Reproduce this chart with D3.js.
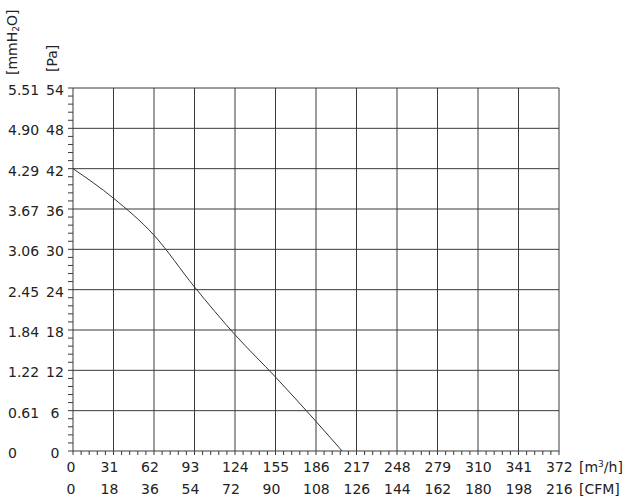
<!DOCTYPE html>
<html>
<head>
<meta charset="utf-8">
<script src="https://cdn.jsdelivr.net/npm/d3@7"></script>
<style>
  html, body { margin: 0; padding: 0; background: #fff; }
  svg text { font-family: "DejaVu Sans", Verdana, sans-serif; font-size: 14px; fill: #222; }
</style>
</head>
<body>
<svg id="chart" width="627" height="499"></svg>
<script>
// ---- data ----
const flowTicks = [0, 31, 62, 93, 124, 155, 186, 217, 248, 279, 310, 341, 372]; // m3/h
const cfmLabels = [0, 18, 36, 54, 72, 90, 108, 126, 144, 162, 180, 198, 216];    // CFM
const paTicks = [0, 6, 12, 18, 24, 30, 36, 42, 48, 54];                          // Pa
const mmH2OLabels = ["0", "0.61", "1.22", "1.84", "2.45", "3.06", "3.67", "4.29", "4.90", "5.51"];
const curveFlow = [0, 31, 62, 93, 124, 155, 186, 206];        // m3/h
const curvePa   = [42, 37.6, 32.1, 24.4, 17.3, 11, 4.4, 0];   // Pa

// ---- layout ----
const svg = d3.select("#chart");
const x = d3.scaleLinear().domain([0, 372]).range([73, 559]);
const y = d3.scaleLinear().domain([0, 54]).range([451, 88]);
const gridColor = "#3a3a3a";

// grid lines
svg.append("g").selectAll("line.v").data(flowTicks).join("line")
  .attr("x1", d => x(d)).attr("x2", d => x(d))
  .attr("y1", y(0)).attr("y2", y(54))
  .attr("stroke", gridColor).attr("stroke-width", 1);
svg.append("g").selectAll("line.h").data(paTicks).join("line")
  .attr("y1", d => y(d)).attr("y2", d => y(d))
  .attr("x1", x(0)).attr("x2", x(372))
  .attr("stroke", gridColor).attr("stroke-width", 1);

// minor ticks
const xMinor = d3.range(0, 61).map(i => i * 31 / 5);
svg.append("g").selectAll("line").data(xMinor).join("line")
  .attr("x1", d => x(d)).attr("x2", d => x(d))
  .attr("y1", y(0)).attr("y2", y(0) + 4)
  .attr("stroke", gridColor).attr("stroke-width", 1);
const yMinor = d3.range(0, 46).map(i => i * 6 / 5);
svg.append("g").selectAll("line").data(yMinor).join("line")
  .attr("y1", d => y(d)).attr("y2", d => y(d))
  .attr("x1", x(0) - 5).attr("x2", x(0))
  .attr("stroke", gridColor).attr("stroke-width", 1);

// curve
const pts = curveFlow.map((f, i) => [f, curvePa[i]]);
svg.append("path")
  .attr("d", d3.line().x(d => x(d[0])).y(d => y(d[1])).curve(d3.curveMonotoneX)(pts))
  .attr("fill", "none").attr("stroke", "#333").attr("stroke-width", 1);

// y labels
svg.append("g").selectAll("text").data(mmH2OLabels).join("text")
  .attr("x", 8).attr("y", (d, i) => y(paTicks[i]) + 7)
  .text(d => d);
svg.append("g").selectAll("text").data(paTicks).join("text")
  .attr("x", 55).attr("y", d => y(d) + 7)
  .attr("text-anchor", "middle")
  .text(d => d);

// x labels
svg.append("g").selectAll("text").data(flowTicks).join("text")
  .attr("x", (d, i) => i === 0 ? x(d) - 2 : x(d) - 13)
  .attr("y", 472)
  .attr("text-anchor", (d, i) => i === 0 ? "middle" : "start")
  .text(d => d);
svg.append("g").selectAll("text").data(cfmLabels).join("text")
  .attr("x", (d, i) => i === 0 ? x(flowTicks[i]) - 2 : x(flowTicks[i]) - 13)
  .attr("y", 494)
  .attr("text-anchor", (d, i) => i === 0 ? "middle" : "start")
  .text(d => d);

// unit labels
const u1 = svg.append("text").attr("x", 579).attr("y", 472);
u1.append("tspan").text("[m");
u1.append("tspan").attr("font-size", "9px").attr("dy", -5).text("3");
u1.append("tspan").attr("dy", 5).text("/h]");
svg.append("text").attr("x", 579).attr("y", 494).text("[CFM]");

// axis titles (rotated)
const t1 = svg.append("text").attr("transform", "translate(17,75) rotate(-90)");
t1.append("tspan").text("[mmH");
t1.append("tspan").attr("font-size", "9px").attr("dy", 1.5).text("2");
t1.append("tspan").attr("dy", -1.5).text("O]");
svg.append("text").attr("transform", "translate(57,72) rotate(-90)").text("[Pa]");
</script>
</body>
</html>
